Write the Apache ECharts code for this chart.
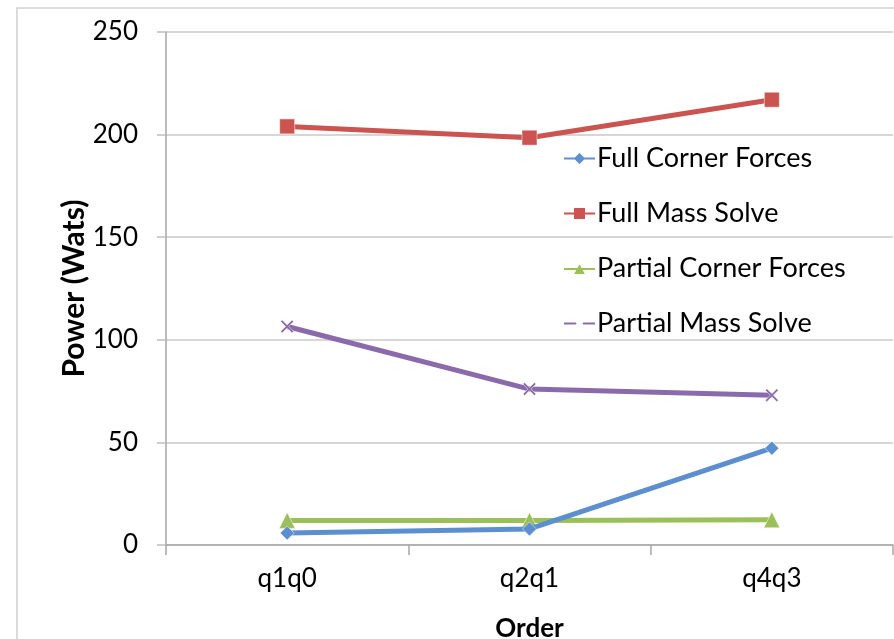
<!DOCTYPE html>
<html><head><meta charset="utf-8">
<script src="https://cdn.jsdelivr.net/npm/echarts@6/dist/echarts.min.js"></script>
<style>html,body{margin:0;padding:0;background:#fff}#c{width:894px;height:639px}</style>
</head><body><div id="c"></div>
<script>
var categories = ['q1q0', 'q2q1', 'q4q3'];
var fullCornerForces = [5.8, 7.8, 47.2];
var fullMassSolve = [204, 198.5, 217];
var partialCornerForces = [12, 12, 12.3];
var partialMassSolve = [106.5, 76, 73];
var yTicks = [0, 50, 100, 150, 200, 250];
var seriesNames = ['Full Corner Forces', 'Full Mass Solve', 'Partial Corner Forces', 'Partial Mass Solve'];

var FONT = 'Lato';
var chart = echarts.init(document.getElementById('c'), null, {renderer: 'canvas'});
var xPath = 'path://M0,1.2 L1.2,0 L5,3.8 L8.8,0 L10,1.2 L6.2,5 L10,8.8 L8.8,10 L5,6.2 L1.2,10 L0,8.8 L3.8,5 Z';
var legendIcons = [
  'path://M0,6 L11.5,6 L16.5,1 L21.5,6 L33,6 L33,10 L21.5,10 L16.5,15 L11.5,10 L0,10 Z',
  'path://M0,6 L10,6 L10,1.5 L23,1.5 L23,6 L33,6 L33,10 L23,10 L23,14.5 L10,14.5 L10,10 L0,10 Z',
  'path://M0,6 L13.8,6 L16.5,1 L19.2,6 L33,6 L33,10 L21.35,10 L23.5,14 L9.5,14 L11.65,10 L0,10 Z',
  'path://M0,6 L33,6 L33,10 L0,10 Z M10.5,3.44 L11.94,2 L16.5,6.56 L21.06,2 L22.5,3.44 L17.94,8 L22.5,12.56 L21.06,14 L16.5,9.44 L11.94,14 L10.5,12.56 L15.06,8 Z'
];
function s(name, data, color, symbol, size, extra) {
  return Object.assign({
    name: name, type: 'line', data: data, symbol: symbol, symbolSize: size,
    lineStyle: {color: color, width: 5},
    itemStyle: {color: color, borderColor: '#ffffff', borderWidth: 0.5},
    emphasis: {disabled: true}
  }, extra || {});
}
chart.setOption({
  animation: false,
  graphic: [{type: 'rect', shape: {x: 17, y: 8, width: 900, height: 700},
    style: {fill: 'none', stroke: '#d0d0d0', lineWidth: 1.5}, silent: true}],
  grid: {left: 166, right: 1, top: 32, bottom: 94, outerBoundsMode: 'none', containLabel: false},
  legend: {
    orient: 'vertical', left: 557, top: 140, itemWidth: 33, itemHeight: 16, itemGap: 28,
    textStyle: {fontFamily: FONT, fontSize: 27, color: '#000', padding: [0, 0, 0, -4]},
    data: seriesNames.map(function (n, i) { return {name: n, icon: legendIcons[i]}; })
  },
  xAxis: {
    type: 'category', data: categories, boundaryGap: true,
    name: 'Order', nameLocation: 'middle', nameGap: 71, nameMoveOverlap: false,
    nameTextStyle: {fontFamily: FONT, fontSize: 26, fontWeight: 'bold', color: '#000'},
    axisLine: {lineStyle: {color: '#a6a6a6', width: 1.5}},
    axisTick: {show: true, length: 10, lineStyle: {color: '#a6a6a6', width: 1.5}},
    axisLabel: {fontFamily: FONT, fontSize: 26, color: '#000', margin: 21}
  },
  yAxis: {
    type: 'value', min: yTicks[0], max: yTicks[yTicks.length - 1], interval: 50,
    name: 'Power (Wats)', nameLocation: 'middle', nameGap: 77, nameRotate: 90, nameMoveOverlap: false,
    nameTextStyle: {fontFamily: FONT, fontSize: 30, fontWeight: 'bold', color: '#000'},
    axisLine: {show: true, lineStyle: {color: '#a6a6a6', width: 1.5}},
    axisTick: {show: true, length: 9, lineStyle: {color: '#bfbfbf', width: 1.5}},
    axisLabel: {fontFamily: FONT, fontSize: 26, color: '#000', margin: 28},
    splitLine: {lineStyle: {color: '#c8c8c8', width: 1.5}}
  },
  series: [
    s(seriesNames[0], fullCornerForces, '#5b8fcf', 'diamond', 14, {z: 3}),
    s(seriesNames[1], fullMassSolve, '#cc5450', 'rect', 15),
    s(seriesNames[2], partialCornerForces, '#9bbf59', 'triangle', 16, {z: 2}),
    s(seriesNames[3], partialMassSolve, '#8a6aab', xPath, 13)
  ]
});
</script></body></html>
